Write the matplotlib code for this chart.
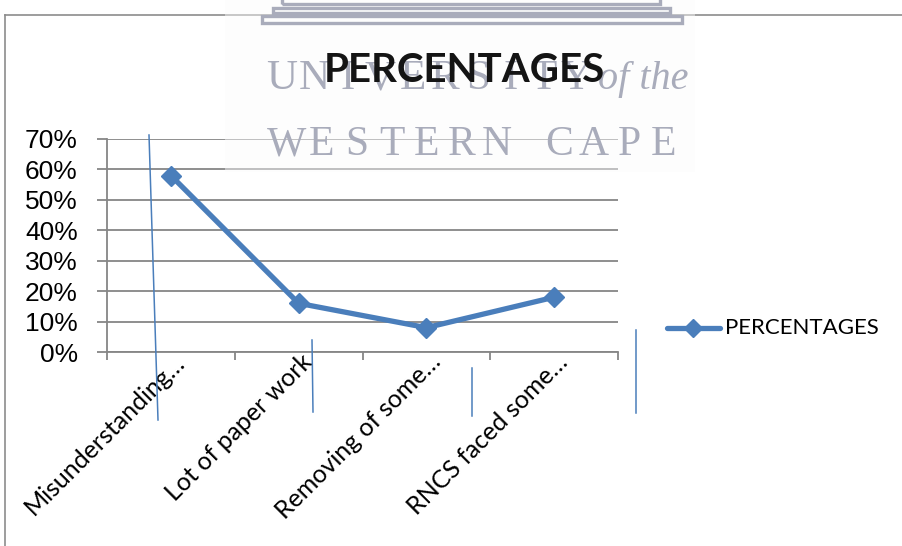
import matplotlib
matplotlib.use("Agg")
import matplotlib.pyplot as plt
from matplotlib.lines import Line2D
from matplotlib.patches import Rectangle
from matplotlib.ticker import FuncFormatter

# ---- data ----
categories = ["Misunderstanding…", "Lot of paper work", "Removing of some…", "RNCS faced some…"]
percentages = [0.58, 0.16, 0.08, 0.18]
y_ticks = [0.0, 0.1, 0.2, 0.3, 0.4, 0.5, 0.6, 0.7]
series_name = "PERCENTAGES"
chart_title = "PERCENTAGES"

W, H = 903, 546
DPI = 100
BLUE = "#4A7EBB"
GRID = "#868686"

fig = plt.figure(figsize=(W / DPI, H / DPI), dpi=DPI)
fig.patch.set_facecolor("white")


def fx(x):
    return x / W


def fy(y):
    return 1 - y / H


# chart frame (left and top edges of the chart area)
fig.add_artist(Line2D([fx(5), fx(5)], [fy(15), fy(546)], color="#8c8c8c", lw=1.2))
fig.add_artist(Line2D([fx(5), fx(903)], [fy(15), fy(15)], color="#8c8c8c", lw=1.2))

# plot area
ax = fig.add_axes([fx(107), fy(352), fx(618) - fx(107), fy(139) - fy(352)])
ax.set_xlim(-0.5, len(categories) - 0.5)
ax.set_ylim(0, 0.7)
for s in ["top", "right"]:
    ax.spines[s].set_visible(False)
for s in ["left", "bottom"]:
    ax.spines[s].set_color(GRID)
    ax.spines[s].set_linewidth(1.3)

ax.set_yticks(y_ticks)
ax.yaxis.set_major_formatter(FuncFormatter(lambda v, p: f"{round(v * 100):d}%"))
ax.tick_params(axis="y", length=7, width=1.3, color=GRID, pad=14,
               labelsize=19, labelcolor="black")
for lab in ax.get_yticklabels():
    lab.set_fontfamily("Liberation Sans")
ax.grid(axis="y", color=GRID, lw=1.3)
ax.set_axisbelow(True)

xpos = list(range(len(categories)))
ax.set_xticks(xpos)
ax.set_xticklabels([])
ax.tick_params(axis="x", which="major", length=0)
ax.set_xticks([i - 0.5 for i in range(len(categories) + 1)], minor=True)
ax.tick_params(axis="x", which="minor", length=6, width=1.3, color=GRID)

for i, name in zip(xpos, categories):
    ax.annotate(name, xy=(i, 0), xycoords="data", xytext=(2, 2),
                textcoords="offset pixels", rotation=45, rotation_mode="anchor",
                ha="right", va="top", fontsize=18,
                family="Lato", color="black", annotation_clip=False)

ax.plot(xpos, percentages, color=BLUE, lw=3.8, marker="D", markersize=10.5,
        markerfacecolor=BLUE, markeredgecolor=BLUE, solid_capstyle="round",
        solid_joinstyle="round", zorder=5, clip_on=False)

# legend
leg_y = fy(328)
fig.add_artist(Line2D([fx(667), fx(720)], [leg_y, leg_y], color=BLUE, lw=3.8,
                      solid_capstyle="round"))
fig.add_artist(Line2D([fx(693)], [leg_y], color=BLUE, marker="D", markersize=9,
                      markeredgecolor=BLUE))
fig.text(fx(725), leg_y, series_name, family="Lato", fontsize=16,
         ha="left", va="center", color="black")

# university crest watermark behind the title
fig.add_artist(Rectangle((fx(225), fy(172)), fx(695) - fx(225), fy(0) - fy(172),
                         transform=fig.transFigure, facecolor="#fbfbfc",
                         edgecolor="none", alpha=0.45, zorder=10))
WM = "#a9acbb"
for (x0, x1, y0, y1) in [(282, 660, -2, 4), (273, 670, 8, 13), (262, 682, 16, 23)]:
    fig.add_artist(Rectangle((fx(x0), fy(y1)), fx(x1) - fx(x0), fy(y0) - fy(y1),
                             transform=fig.transFigure, facecolor="none",
                             edgecolor=WM, lw=2.4, zorder=11))


def spaced(text, c0, c1, y, size, **kw):
    n = len(text)
    for k, ch in enumerate(text):
        x = c0 + (c1 - c0) * k / (n - 1)
        fig.text(fx(x), fy(y), ch, ha="center", va="baseline", fontsize=size,
                 color=WM, family="Liberation Serif", zorder=11, **kw)


spaced("UNIVERSITY", 282, 576, 89, 31)
fig.text(fx(598), fy(89), "of the", ha="left", va="baseline", fontsize=29,
         color=WM, family="Liberation Serif", style="italic", zorder=11)
spaced("WESTERN", 287, 497, 155, 30)
spaced("CAPE", 559, 664, 155, 30)

# title
fig.text(fx(464), fy(71), chart_title, ha="center", va="center", fontsize=29,
         fontweight="bold", family="Lato", color="#141414", zorder=12)

# hand-drawn pen marks across the chart
for (x0, y0, x1, y1) in [(149, 135, 158, 420), (312, 340, 313, 412),
                         (472, 368, 472, 416), (636, 330, 636, 413)]:
    fig.add_artist(Line2D([fx(x0), fx(x1)], [fy(y0), fy(y1)], color=BLUE, lw=1.1,
                          zorder=13))

fig.savefig("out.png", dpi=DPI)
